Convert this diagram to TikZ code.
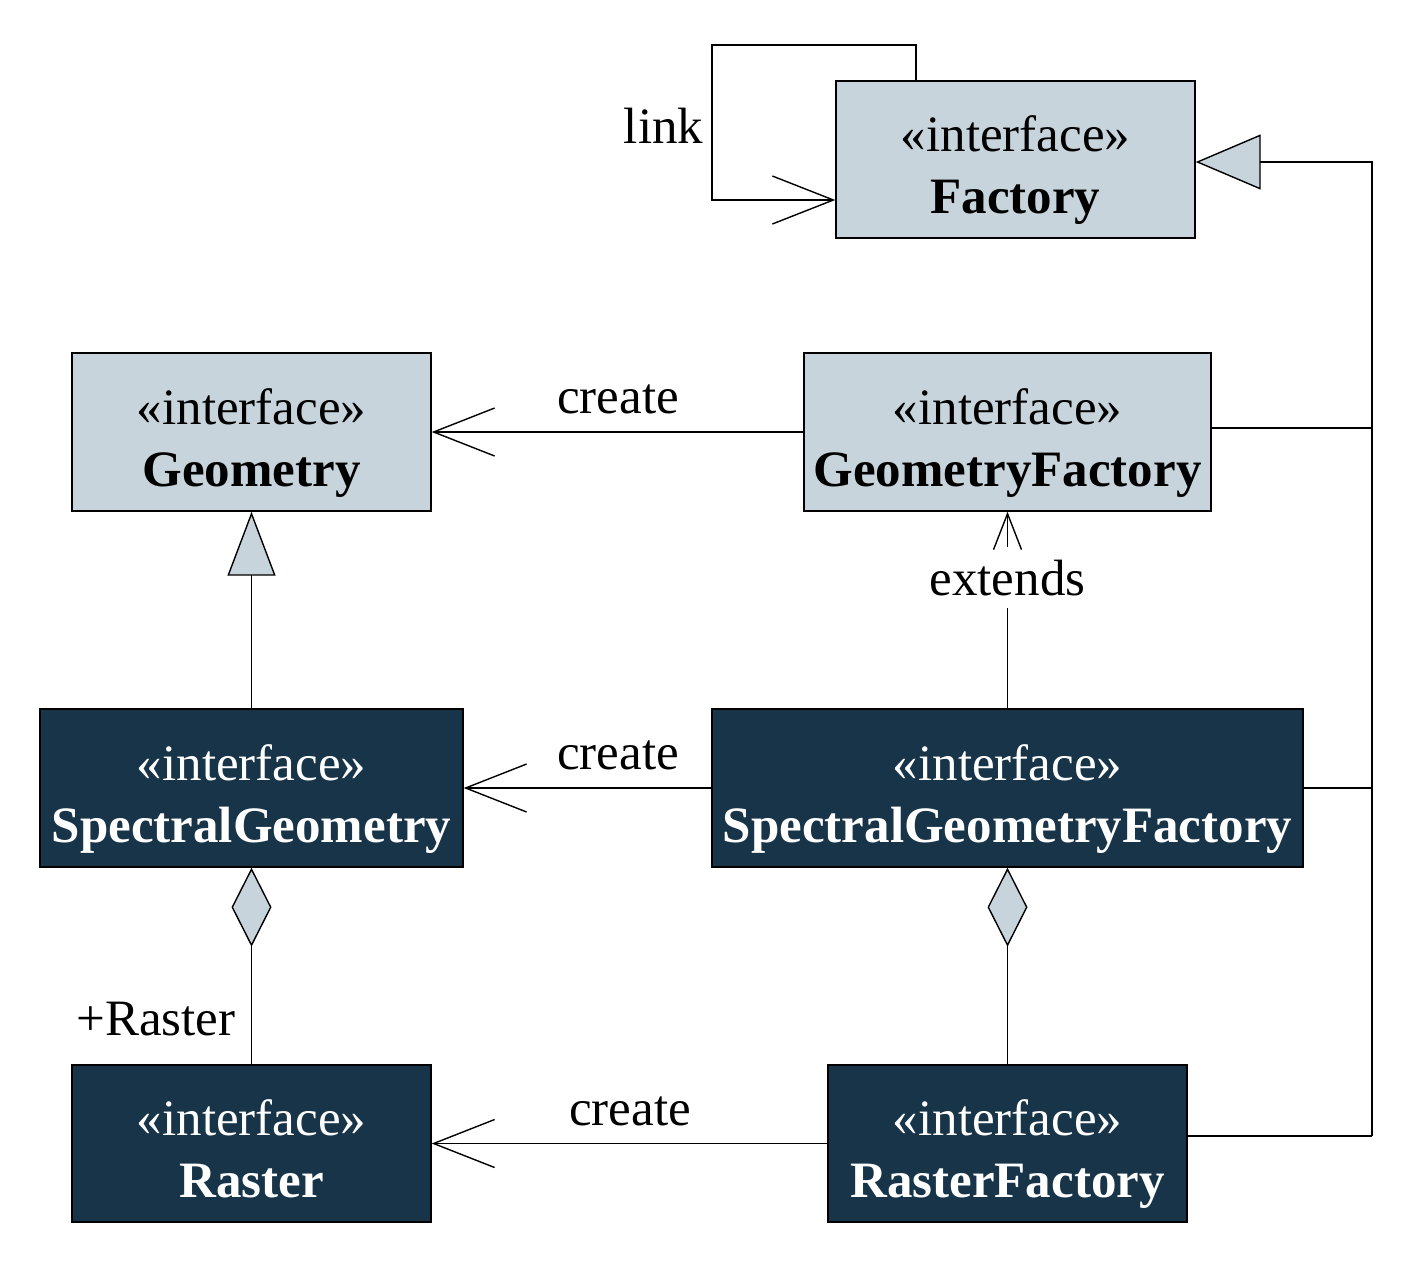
\documentclass[tikz,border=0pt]{standalone}
\usepackage{fontspec}
\setmainfont{Liberation Serif}
\usetikzlibrary{arrows.meta}
\definecolor{lightc}{RGB}{200,212,220}
\definecolor{darkc}{RGB}{24,52,72}
\begin{document}
\begin{tikzpicture}[x=0.5pt,y=-0.5pt,
  font=\fontsize{25.5}{31}\selectfont,
  cls/.style={draw=black, line width=0.7pt, inner sep=0pt, align=center,
    text height=60pt, text depth=6pt},
  lightcls/.style={cls, fill=lightc, text=black},
  darkcls/.style={cls, fill=darkc, text=white},
  conn/.style={line width=0.7pt},
  assoc/.style={conn, -{Straight Barb[length=30.5pt,width=24pt]}},
  smallassoc/.style={conn, -{Straight Barb[length=18pt,width=14pt]}},
  gen/.style={conn, -{Triangle[length=32pt,width=24pt,fill=lightc]}},
  gentop/.style={conn, -{Triangle[length=32.5pt,width=27.5pt,fill=lightc]}},
  comp/.style={conn, {Diamond[length=39.5pt,width=20pt,fill=lightc]}-},
  lbl/.style={anchor=base, inner sep=0pt}
]
\useasboundingbox (0,0) rectangle (1412,1264);

% classes
\node[lightcls, minimum width=179.5pt, minimum height=78.5pt] (factory) at (1015.5,159.5) {«interface»\\\textbf{Factory}};
\node[lightcls, minimum width=179.5pt, minimum height=79pt] (geometry) at (251.5,432) {«interface»\\\textbf{Geometry}};
\node[lightcls, minimum width=203.5pt, minimum height=79pt] (gfactory) at (1007.5,432) {«interface»\\\textbf{GeometryFactory}};
\node[darkcls, minimum width=211.5pt, minimum height=79pt] (sgeom) at (251.5,788) {«interface»\\\textbf{SpectralGeometry}};
\node[darkcls, minimum width=295.5pt, minimum height=79pt] (sgfactory) at (1007.5,788) {«interface»\\\textbf{SpectralGeometryFactory}};
\node[darkcls, minimum width=179.5pt, minimum height=78.5pt] (raster) at (251.5,1143.5) {«interface»\\\textbf{Raster}};
\node[darkcls, minimum width=179.5pt, minimum height=78.5pt] (rfactory) at (1007.5,1143.5) {«interface»\\\textbf{RasterFactory}};

% labels
\node[lbl] (lc1) at (618,413) {create};
\node[lbl] (lc2) at (618,769) {create};
\node[lbl] (lc3) at (630,1125) {create};
\node[lbl] (lext) at (1007.5,595) {extends};
\node[lbl] (llink) at (663.5,143) {link};
\node[lbl] (lras) at (156,1035) {+Raster};

% self link on Factory
\coordinate (l1) at (916,45);
\coordinate (l2) at (712,45);
\coordinate (l3) at (712,200);
\draw[assoc] (factory.north -| l1) -- (l1) -- (l2) -- (l3) -- (l3 -| factory.west);

% create associations
\draw[assoc] (gfactory.west) -- (geometry.east);
\draw[assoc] (sgfactory.west) -- (sgeom.east);
\draw[assoc] (rfactory.west) -- (raster.east);

% extends
\coordinate (e1) at (1007.5,547);
\coordinate (e2) at (1007.5,608);
\draw[conn] (sgfactory.north) -- (e2);
\draw[smallassoc] (e1) -- (gfactory.south);

% generalization Geometry
\draw[gen] (sgeom.north) -- (geometry.south);

% aggregations
\draw[comp] (sgeom.south) -- (raster.north);
\draw[comp] (sgfactory.south) -- (rfactory.north);

% generalization to Factory
\coordinate (jt) at (1372,162);
\coordinate (jg) at (1372,428);
\coordinate (jr) at (1372,1136);
\draw[conn] (rfactory.east |- jr) -- (jr);
\draw[conn] (gfactory.east |- jg) -- (jg);
\draw[conn] (sgfactory.east) -- (sgfactory.east -| jr);
\draw[gentop] (jr) -- (jt) -- (factory.east |- jt);
\end{tikzpicture}
\end{document}
